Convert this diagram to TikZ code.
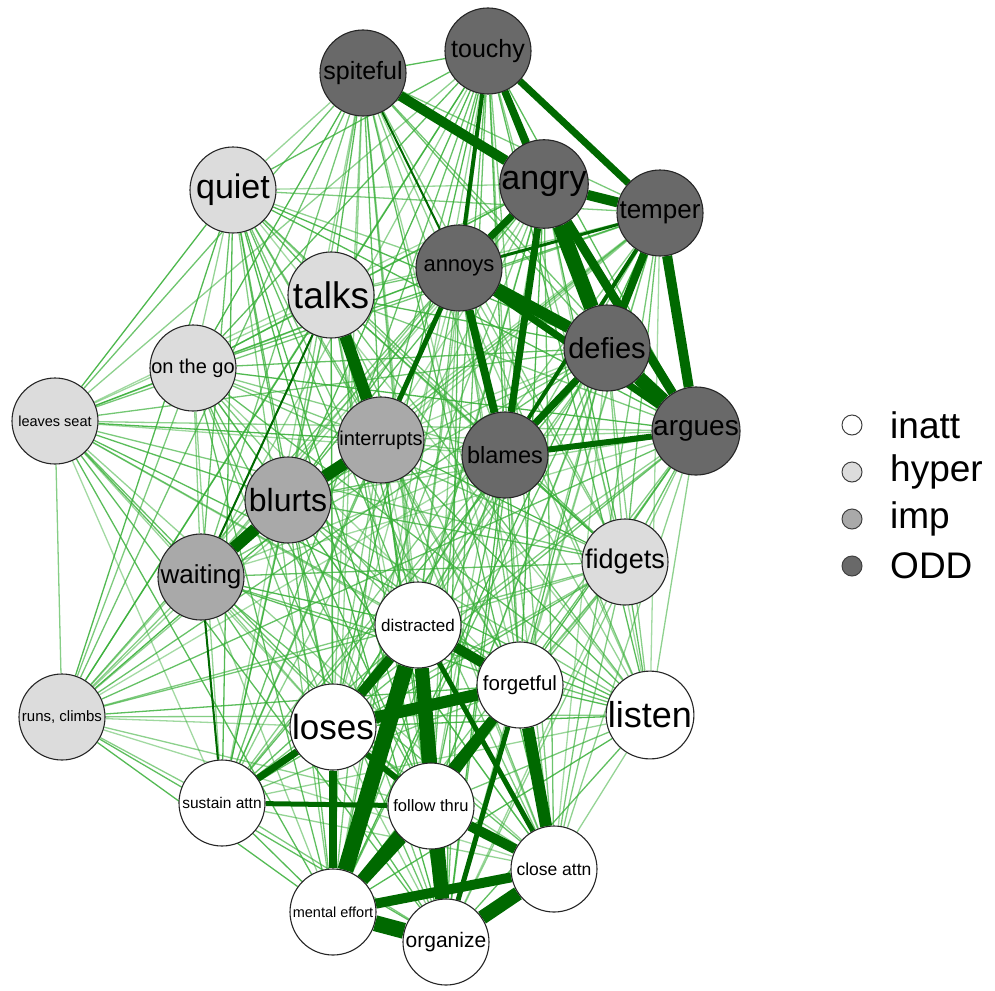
\documentclass[tikz,border=0pt]{standalone}
\usepackage{fontspec}
\setmainfont{Liberation Sans}
\usetikzlibrary{backgrounds}
\definecolor{inattc}{RGB}{255,255,255}
\definecolor{hyperc}{RGB}{220,220,220}
\definecolor{impc}{RGB}{169,169,169}
\definecolor{oddc}{RGB}{105,105,105}
\definecolor{thinc}{RGB}{55,175,55}
\definecolor{thickc}{RGB}{0,105,0}
\newcommand\fs[1]{\fontsize{#1}{#1}\selectfont}
\tikzset{
  vtx/.style={circle, draw=black!85, line width=1.1pt, minimum size=86pt, inner sep=0pt, text=black},
  inattn/.style={vtx, fill=inattc},
  hypern/.style={vtx, fill=hyperc},
  impn/.style={vtx, fill=impc},
  oddn/.style={vtx, fill=oddc},
  thinedge/.style={draw=thinc, line width=1.3pt},
  we/.style={draw=thickc, line width=#1},
  legdot/.style={circle, draw=black!75, line width=1pt, minimum size=20pt, inner sep=0pt},
  legtxt/.style={anchor=west, font=\fs{37}, inner sep=0pt}
}
\begin{document}
\begin{tikzpicture}[x=1pt,y=-1pt]
\useasboundingbox (0,0) rectangle (995,990);
% nodes
\node[oddn, font=\fs{25}] (spiteful) at (363,73) {spiteful};
\node[oddn, font=\fs{25}] (touchy) at (488,51) {touchy};
\node[hypern, font=\fs{34}] (quiet) at (233,190) {quiet};
\node[oddn, font=\fs{34}] (angry) at (544,184) {angry};
\node[oddn, font=\fs{26}] (temper) at (660,213) {temper};
\node[oddn, font=\fs{22}] (annoys) at (459,268) {annoys};
\node[hypern, font=\fs{37}] (talks) at (331,295) {talks};
\node[oddn, font=\fs{29}] (defies) at (607,348) {defies};
\node[hypern, font=\fs{20}] (onthego) at (193,368) {on the go};
\node[hypern, font=\fs{14.5}] (leavesseat) at (55,421) {leaves seat};
\node[impn, font=\fs{20}] (interrupts) at (381,440) {interrupts};
\node[oddn, font=\fs{23.5}] (blames) at (505,455) {blames};
\node[oddn, font=\fs{28}] (argues) at (696,431) {argues};
\node[impn, font=\fs{32}] (blurts) at (288,500) {blurts};
\node[impn, font=\fs{26}] (waiting) at (201,577) {waiting};
\node[hypern, font=\fs{27}] (fidgets) at (625,562) {fidgets};
\node[inattn, font=\fs{17}] (distracted) at (418,625) {distracted};
\node[inattn, font=\fs{20.5}] (forgetful) at (520,685) {forgetful};
\node[inattn, font=\fs{36}] (listen) at (650,715) {listen};
\node[hypern, font=\fs{15}] (runsclimbs) at (62,717) {runs, climbs};
\node[inattn, font=\fs{35}] (loses) at (333,727) {loses};
\node[inattn, font=\fs{15.5}] (sustainattn) at (222,803) {sustain attn};
\node[inattn, font=\fs{16.5}] (followthru) at (431,806) {follow thru};
\node[inattn, font=\fs{17.5}] (closeattn) at (554,869) {close attn};
\node[inattn, font=\fs{14.5}] (mentaleffort) at (333,912) {mental effort};
\node[inattn, font=\fs{21}] (organize) at (446,942) {organize};
% legend
\node[legdot, fill=inattc] (l1) at (852,425) {};
\node[legdot, fill=hyperc] (l2) at (852,472) {};
\node[legdot, fill=impc] (l3) at (852,519) {};
\node[legdot, fill=oddc] (l4) at (852,566) {};
\node[legtxt] (t1) at (890,425) {inatt};
\node[legtxt] (t2) at (890,472) {hyper};
\node[legtxt] (t3) at (890,519) {imp};
\node[legtxt] (t4) at (890,566) {ODD};
\begin{pgfonlayer}{background}
\fill[white] (0,0) rectangle (995,990);
\pgfmathsetseed{7}
\foreach \a [count=\i] in {spiteful,touchy,quiet,angry,temper,annoys,talks,defies,onthego,leavesseat,interrupts,blames,argues,blurts,waiting,fidgets,distracted,forgetful,listen,runsclimbs,loses,sustainattn,followthru,closeattn,mentaleffort,organize}{
  \foreach \b [count=\j] in {spiteful,touchy,quiet,angry,temper,annoys,talks,defies,onthego,leavesseat,interrupts,blames,argues,blurts,waiting,fidgets,distracted,forgetful,listen,runsclimbs,loses,sustainattn,followthru,closeattn,mentaleffort,organize}{
    \ifnum\j>\i
      \pgfmathsetmacro\op{0.45+0.45*rnd}
      \draw[thinedge, draw opacity=\op] (\a) -- (\b);
    \fi
  }
}
% ODD strong edges
\draw[we=10pt] (spiteful) -- (angry);
\draw[we=2pt] (spiteful) -- (annoys);
\draw[we=7pt] (touchy) -- (angry);
\draw[we=6pt] (touchy) -- (defies);
\draw[we=7pt] (touchy) -- (temper);
\draw[we=4pt] (touchy) -- (annoys);
\draw[we=10pt] (angry) -- (temper);
\draw[we=7pt] (angry) -- (annoys);
\draw[we=15pt] (angry) -- (defies);
\draw[we=9pt] (angry) -- (argues);
\draw[we=7pt] (angry) -- (blames);
\draw[we=8pt] (temper) -- (defies);
\draw[we=10pt] (temper) -- (argues);
\draw[we=3pt] (temper) -- (annoys);
\draw[we=4pt] (temper) -- (blames);
\draw[we=12pt] (annoys) -- (defies);
\draw[we=7pt] (annoys) -- (argues);
\draw[we=8pt] (annoys) -- (blames);
\draw[we=5pt] (annoys) -- (interrupts);
\draw[we=14pt] (defies) -- (argues);
\draw[we=7pt] (defies) -- (blames);
\draw[we=6pt] (blames) -- (argues);
% hyper / imp strong edges
\draw[we=12pt] (talks) -- (interrupts);
\draw[we=12pt] (interrupts) -- (blurts);
\draw[we=12pt] (blurts) -- (waiting);
\draw[we=2pt] (talks) -- (waiting);
\draw[we=2pt] (waiting) -- (sustainattn);
% inatt strong edges
\draw[we=10pt] (distracted) -- (loses);
\draw[we=16pt] (distracted) -- (mentaleffort);
\draw[we=12pt] (distracted) -- (followthru);
\draw[we=14pt] (distracted) -- (organize);
\draw[we=10pt] (distracted) -- (forgetful);
\draw[we=5pt] (distracted) -- (closeattn);
\draw[we=12pt] (forgetful) -- (loses);
\draw[we=7pt] (forgetful) -- (followthru);
\draw[we=12pt] (forgetful) -- (closeattn);
\draw[we=8pt] (forgetful) -- (mentaleffort);
\draw[we=5pt] (forgetful) -- (organize);
\draw[we=7pt] (loses) -- (sustainattn);
\draw[we=8pt] (loses) -- (mentaleffort);
\draw[we=6pt] (loses) -- (followthru);
\draw[we=5pt] (sustainattn) -- (followthru);
\draw[we=12pt] (followthru) -- (mentaleffort);
\draw[we=12pt] (followthru) -- (organize);
\draw[we=10pt] (followthru) -- (closeattn);
\draw[we=16pt] (mentaleffort) -- (organize);
\draw[we=10pt] (mentaleffort) -- (closeattn);
\draw[we=14pt] (organize) -- (closeattn);
\end{pgfonlayer}
\end{tikzpicture}
\end{document}
